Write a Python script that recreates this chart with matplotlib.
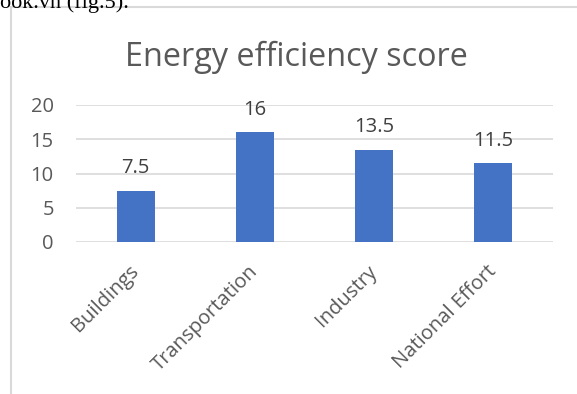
import matplotlib
matplotlib.use('Agg')
from matplotlib import pyplot as plt
from matplotlib.patches import Rectangle

categories = ['Buildings', 'Transportation', 'Industry', 'National Effort']
scores = [7.5, 16, 13.5, 11.5]
score_labels = ['7.5', '16', '13.5', '11.5']
yticks = [0, 5, 10, 15, 20]

W, H = 577, 394
fig = plt.figure(figsize=(W / 100, H / 100), dpi=100)
plt.rcParams['font.family'] = ['Open Sans', 'DejaVu Sans']

# outer chart frame (cut by the image on the right and bottom)
fig.patches.append(Rectangle((10.5 / W, -0.1), 1.2, 1 - 7 / H + 0.1, transform=fig.transFigure,
                             fill=False, edgecolor='#d9d9d9', linewidth=1.5))

# bit of document text above the chart
fig.text(0.0, 1 + 7 / H, 'ook.vn (fig.5).', family='Liberation Serif', fontsize=16,
         color='black', ha='left', va='top')

ax = fig.add_axes([76 / W, 1 - 242 / H, (553 - 76) / W, (242 - 105) / H])
x = range(len(categories))
ax.bar(x, scores, width=0.32, color='#4472c4', zorder=3)
for i, (v, lab) in enumerate(zip(scores, score_labels)):
    ax.text(i, v + 1.8, lab, ha='center', va='bottom', fontsize=14.5, color='#404040')

ax.set_xlim(-0.5, len(categories) - 0.5)
ax.set_ylim(0, 20)
ax.set_yticks(yticks)
ax.set_xticks(list(x))
ax.set_xticklabels(categories, rotation=45, ha='right', va='center', rotation_mode='anchor')
ax.grid(axis='y', color='#d9d9d9', linewidth=1.2, zorder=0)
for s in ['top', 'right', 'left', 'bottom']:
    ax.spines[s].set_visible(False)
ax.tick_params(axis='both', length=0, labelsize=14.5, colors='#595959')
ax.tick_params(axis='y', pad=16)
ax.tick_params(axis='x', pad=19)

fig.text(296 / W, 1 - 57 / H, 'Energy efficiency score', ha='center', va='center',
         fontsize=23.3, color='#595959')

fig.savefig('out.png', dpi=100)
